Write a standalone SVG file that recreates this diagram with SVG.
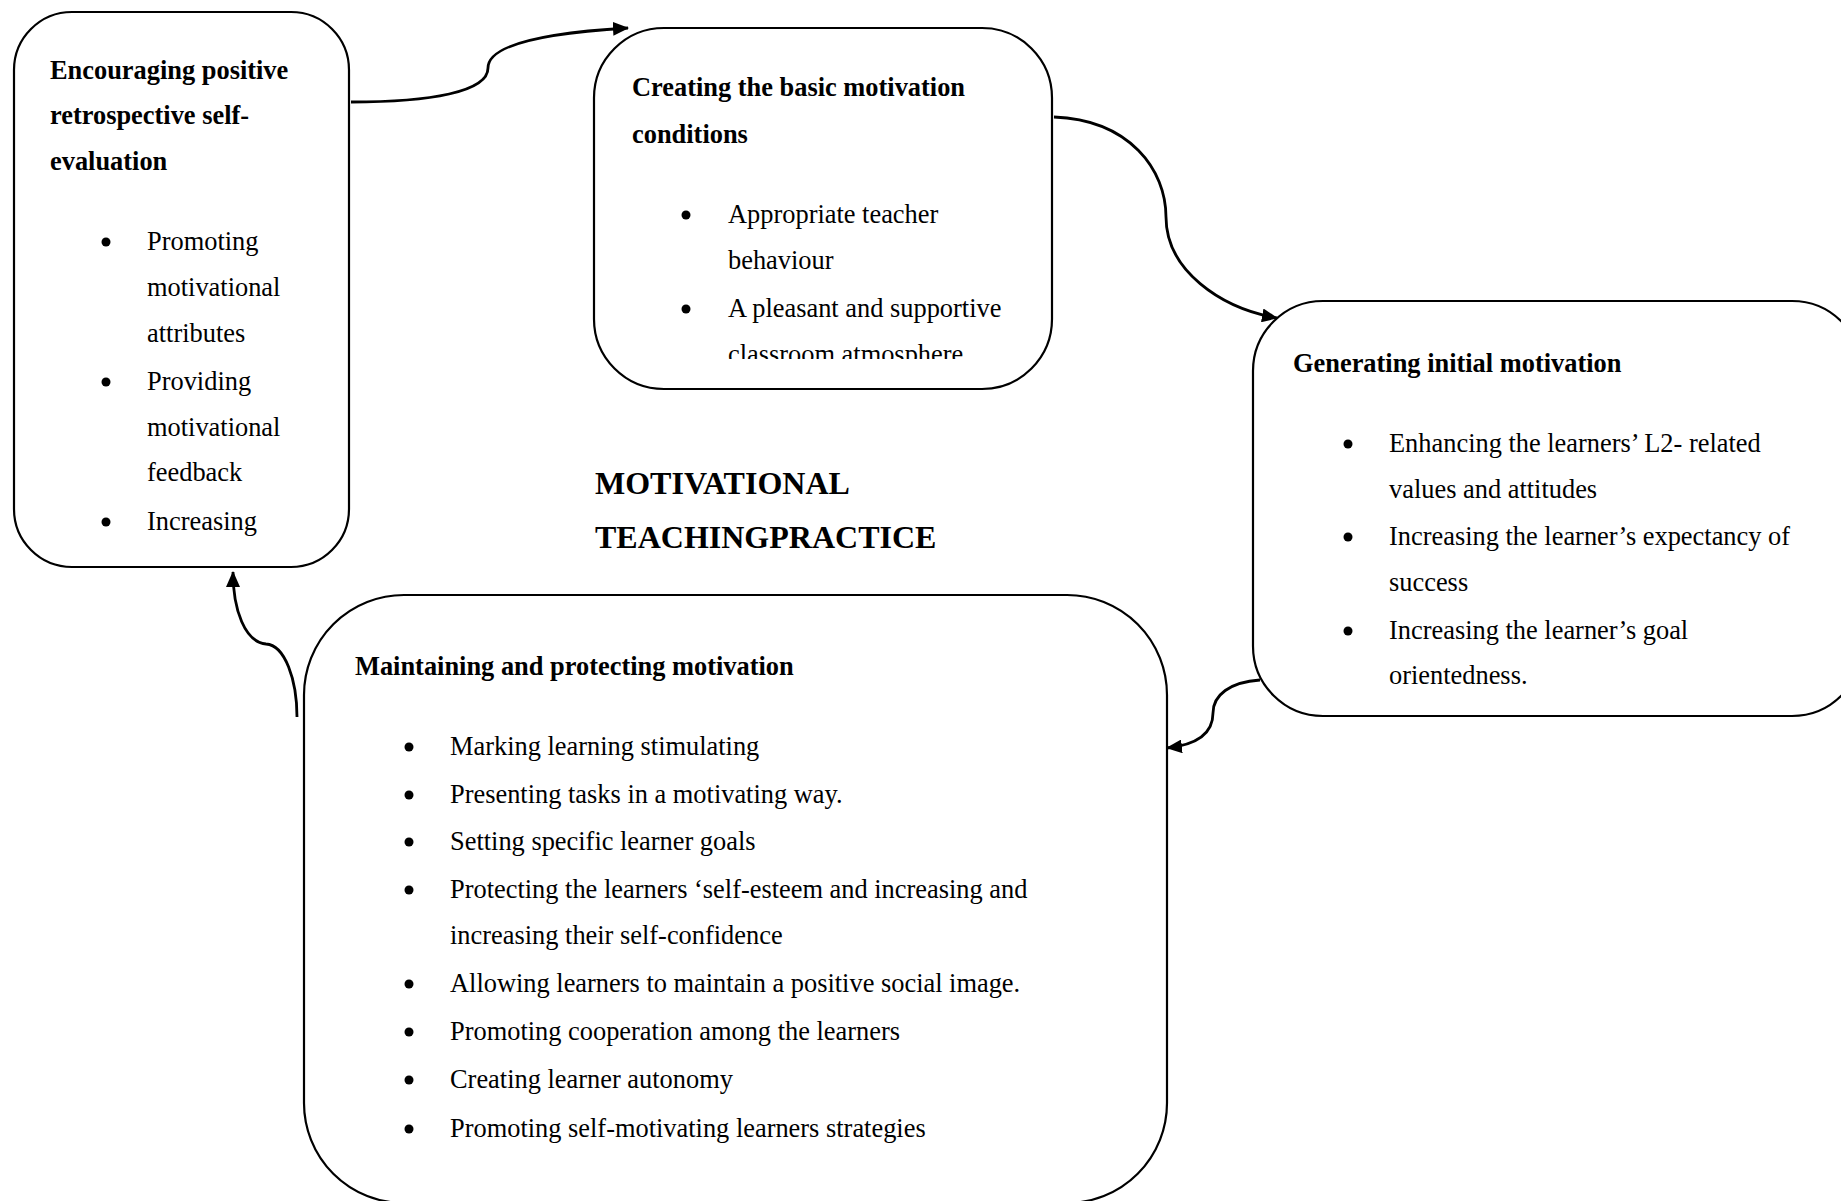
<svg xmlns="http://www.w3.org/2000/svg" width="1841" height="1201" viewBox="0 0 1841 1201">
  <style>
    .box { fill: #ffffff; stroke: #000000; stroke-width: 2.2; }
    .link { fill: none; stroke: #000000; stroke-width: 2.8; }
    text { font-family: "Liberation Serif", "Times New Roman", serif; fill: #000000; }
    .head { font-size: 26.4px; font-weight: bold; }
    .item { font-size: 26.4px; }
    .dot { fill: #000000; }
    .title { font-size: 32px; font-weight: bold; }
  </style>
  <defs>
    <marker id="arrow" viewBox="0 0 16 14" refX="15" refY="7" markerWidth="16" markerHeight="14" markerUnits="userSpaceOnUse" orient="auto">
      <path d="M0,0 L16,7 L0,14 Z" fill="#000000"/>
    </marker>
    <clipPath id="clip-basic">
      <rect x="594" y="28" width="458" height="331"/>
    </clipPath>
  </defs>
  <rect width="1841" height="1201" fill="#ffffff"/>

  <!-- arrows between the stages -->
  <g id="connectors">
    <path class="link" d="M351,102 C430,102 488,92 488,68 C488,42 560,32 628,28" marker-end="url(#arrow)"/>
    <path class="link" d="M1054,117 C1130,120 1166,170 1166,217 C1166,270 1220,308 1277,318" marker-end="url(#arrow)"/>
    <path class="link" d="M1260,680 C1230,682 1213,695 1213,713 C1213,735 1195,745 1167,748" marker-end="url(#arrow)"/>
    <path class="link" d="M297,717 C297,680 285,645 266,644 C245,642 233,610 233,572" marker-end="url(#arrow)"/>
  </g>

  <!-- stage: self-evaluation -->
  <g id="node-self-evaluation">
    <rect class="box" x="14" y="12" width="335" height="555" rx="58" ry="58"/>
    <text class="head" x="50" y="79">Encouraging positive</text>
    <text class="head" x="50" y="124">retrospective self-</text>
    <text class="head" x="50" y="170">evaluation</text>
    <circle class="dot" cx="106" cy="242" r="4.5"/>
    <text class="item" x="147" y="250">Promoting</text>
    <text class="item" x="147" y="296">motivational</text>
    <text class="item" x="147" y="342">attributes</text>
    <circle class="dot" cx="106" cy="382" r="4.5"/>
    <text class="item" x="147" y="390">Providing</text>
    <text class="item" x="147" y="436">motivational</text>
    <text class="item" x="147" y="481">feedback</text>
    <circle class="dot" cx="106" cy="522" r="4.5"/>
    <text class="item" x="147" y="530">Increasing</text>
  </g>

  <!-- stage: basic conditions -->
  <g id="node-basic-conditions">
    <rect class="box" x="594" y="28" width="458" height="361" rx="70" ry="70"/>
    <text class="head" x="632" y="96">Creating the basic motivation</text>
    <text class="head" x="632" y="143">conditions</text>
    <circle class="dot" cx="686" cy="215" r="4.5"/>
    <text class="item" x="728" y="223">Appropriate teacher</text>
    <text class="item" x="728" y="269">behaviour</text>
    <circle class="dot" cx="686" cy="309" r="4.5"/>
    <text class="item" x="728" y="317">A pleasant and supportive</text>
    <text class="item" x="728" y="363" clip-path="url(#clip-basic)">classroom atmosphere.</text>
  </g>

  <!-- stage: initial motivation -->
  <g id="node-initial-motivation">
    <rect class="box" x="1253" y="301" width="609" height="415" rx="70" ry="70"/>
    <text class="head" x="1293" y="372">Generating initial motivation</text>
    <circle class="dot" cx="1348" cy="444" r="4.5"/>
    <text class="item" x="1389" y="452">Enhancing the learners’ L2- related</text>
    <text class="item" x="1389" y="498">values and attitudes</text>
    <circle class="dot" cx="1348" cy="537" r="4.5"/>
    <text class="item" x="1389" y="545">Increasing the learner’s expectancy of</text>
    <text class="item" x="1389" y="591">success</text>
    <circle class="dot" cx="1348" cy="631" r="4.5"/>
    <text class="item" x="1389" y="639">Increasing the learner’s goal</text>
    <text class="item" x="1389" y="684">orientedness.</text>
  </g>

  <!-- stage: maintaining motivation -->
  <g id="node-maintaining">
    <rect class="box" x="304" y="595" width="863" height="608" rx="100" ry="100"/>
    <text class="head" x="355" y="675">Maintaining and protecting motivation</text>
    <circle class="dot" cx="409" cy="747" r="4.5"/>
    <text class="item" x="450" y="755">Marking learning stimulating</text>
    <circle class="dot" cx="409" cy="795" r="4.5"/>
    <text class="item" x="450" y="803">Presenting tasks in a motivating way.</text>
    <circle class="dot" cx="409" cy="842" r="4.5"/>
    <text class="item" x="450" y="850">Setting specific learner goals</text>
    <circle class="dot" cx="409" cy="890" r="4.5"/>
    <text class="item" x="450" y="898">Protecting the learners ‘self-esteem and increasing and</text>
    <text class="item" x="450" y="944">increasing their self-confidence</text>
    <circle class="dot" cx="409" cy="984" r="4.5"/>
    <text class="item" x="450" y="992">Allowing learners to maintain a positive social image.</text>
    <circle class="dot" cx="409" cy="1032" r="4.5"/>
    <text class="item" x="450" y="1040">Promoting cooperation among the learners</text>
    <circle class="dot" cx="409" cy="1080" r="4.5"/>
    <text class="item" x="450" y="1088">Creating learner autonomy</text>
    <circle class="dot" cx="409" cy="1129" r="4.5"/>
    <text class="item" x="450" y="1137">Promoting self-motivating learners strategies</text>
  </g>

  <!-- central caption -->
  <g id="caption">
    <text class="title" x="595" y="494">MOTIVATIONAL</text>
    <text class="title" x="595" y="548">TEACHINGPRACTICE</text>
  </g>
</svg>
